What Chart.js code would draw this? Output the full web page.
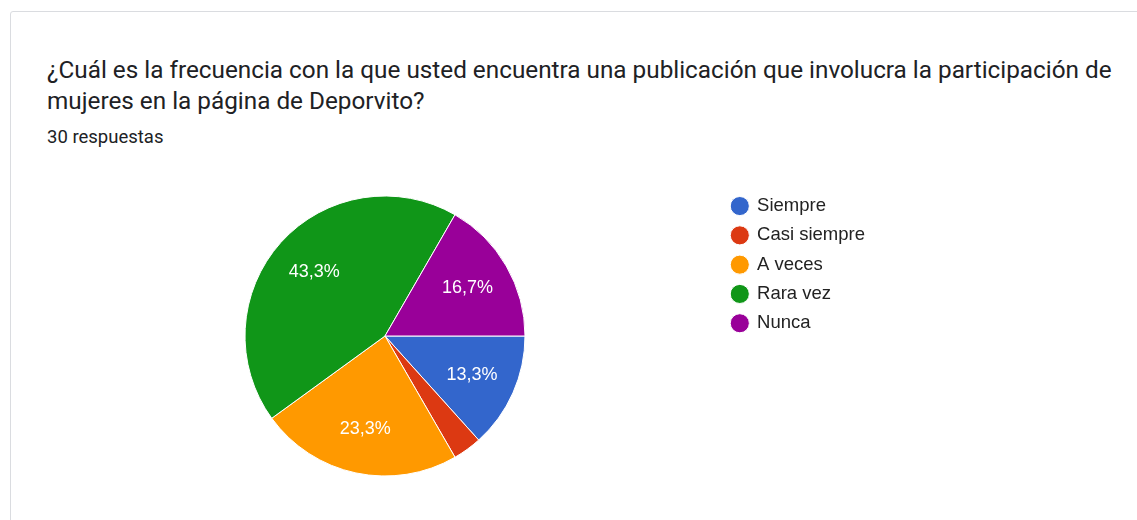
<!DOCTYPE html>
<html>
<head>
  <meta charset="UTF-8">
  <title>Frecuencia publicaciones Deporvito</title>
  <script src="https://cdn.jsdelivr.net/npm/chart.js"></script>
  <style>
    body { margin: 0; background: #fff; width: 1137px; height: 520px; overflow: hidden; position: relative; }
    .card { position: absolute; left: 10px; top: 11px; width: 1200px; height: 600px; border: 1px solid #dadce0; border-radius: 3px; }
    .title { position: absolute; left: 47px; top: 54px; margin: 0; font-family: Roboto, sans-serif; font-weight: 400; font-size: 24.3px; line-height: 31px; color: #202124; white-space: nowrap; }
    .sub { position: absolute; left: 47px; top: 126px; font-family: Roboto, sans-serif; font-size: 18.5px; color: #202124; }
    #chart { position: absolute; left: 0; top: 186px; }
  </style>
</head>
<body>
  <div class="card"></div>
  <h1 class="title">¿Cuál es la frecuencia con la que usted encuentra una publicación que involucra la participación de<br>mujeres en la página de Deporvito?</h1>
  <div class="sub">30 respuestas</div>
  <canvas id="chart" width="1137" height="300"></canvas>

<script>
  const categorias = ['Siempre', 'Casi siempre', 'A veces', 'Rara vez', 'Nunca'];
  const respuestas = [4, 1, 7, 13, 5];
  const colores = ['#3366cc', '#dc3912', '#ff9900', '#109618', '#990099'];

  // porcentajes dentro de cada sector (como en Google Forms)
  const etiquetas = {
    id: 'etiquetas',
    afterDatasetsDraw(chart) {
      const ctx = chart.ctx;
      const data = chart.data.datasets[0].data;
      const total = data.reduce((a, b) => a + b, 0);
      ctx.save();
      ctx.font = '18px "Liberation Sans", Arial, sans-serif';
      ctx.fillStyle = '#fff';
      ctx.textAlign = 'center';
      ctx.textBaseline = 'middle';
      chart.getDatasetMeta(0).data.forEach((arc, i) => {
        const pct = data[i] / total * 100;
        if (pct < 5) return;
        const mid = (arc.startAngle + arc.endAngle) / 2;
        const r = arc.outerRadius * 0.68;
        ctx.fillText(pct.toFixed(1).replace('.', ',') + '%', arc.x + Math.cos(mid) * r, arc.y + Math.sin(mid) * r);
      });
      ctx.restore();
    }
  };

  // leyenda a la derecha con ancho fijo, para dejar el pastel donde va
  const leyendaFija = {
    id: 'leyendaFija',
    beforeLayout(chart) {
      const lg = chart.legend;
      if (lg && !lg._fijo) {
        const fit = lg.fit.bind(lg);
        lg.fit = function () { fit(); this.width = 416; };
        lg._fijo = true;
      }
    }
  };

  new Chart(document.getElementById('chart'), {
    type: 'pie',
    data: {
      labels: categorias,
      datasets: [{
        data: respuestas,
        backgroundColor: colores,
        borderColor: '#fff',
        borderWidth: 1,
        radius: 140
      }]
    },
    options: {
      responsive: false,
      animation: false,
      rotation: 90,
      layout: { padding: { left: 49, top: 0, bottom: 0, right: 0 } },
      plugins: {
        tooltip: { enabled: false },
        legend: {
          position: 'right',
          align: 'start',
          labels: {
            usePointStyle: true,
            pointStyle: 'circle',
            boxWidth: 16,
            boxHeight: 13.5,
            padding: 10.8,
            color: '#222',
            font: { family: '"Liberation Sans", Arial, sans-serif', size: 18.5 }
          }
        }
      }
    },
    plugins: [etiquetas, leyendaFija]
  });
</script>
</body>
</html>
